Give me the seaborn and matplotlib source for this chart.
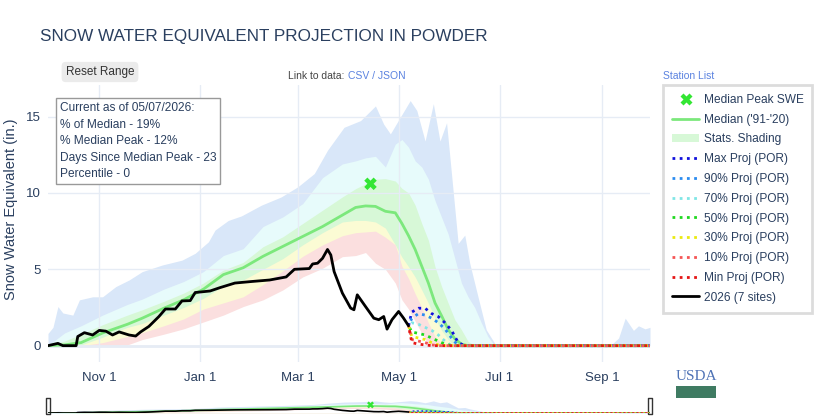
import matplotlib
matplotlib.use("Agg")
import matplotlib.pyplot as plt
import seaborn as sns
from matplotlib.lines import Line2D
from matplotlib.patches import Patch, Rectangle

# day index from Oct 1 (water year start)
tick_days = [31, 92, 151, 212, 273, 335]
tick_labels = ["Nov 1", "Jan 1", "Mar 1", "May 1", "Jul 1", "Sep 1"]

band_days = [0, 10, 20, 33, 48, 57, 70, 82, 94, 106, 118, 130, 142, 154, 166, 178, 186, 192, 198,
             204, 210, 214, 218, 222, 226, 230, 234, 238, 242, 246, 250, 254, 258, 262, 266, 270, 274, 364]
median_swe = [0, 0.05, 0.2, 0.83, 1.4, 1.8, 2.45, 3.0, 3.7, 4.65, 5.1, 5.85, 6.5, 7.15, 7.8, 8.55, 9.05, 9.15, 9.12,
              8.8, 8.7, 8.0, 7.2, 6.3, 5.2, 4.1, 2.8, 1.95, 1.05, 0.45, 0.1, 0, 0, 0, 0, 0, 0, 0]
p90_swe = [0, 0.83, 1.3, 2.0, 2.7, 3.05, 3.7, 4.2, 4.85, 5.9, 6.35, 7.8, 8.43, 9.3, 11.0, 11.9, 12.1, 12.3, 12.4,
           11.7, 13.2, 13.5, 13.0, 12.1, 11.7, 10.9, 9.5, 8.4, 7.3, 5.7, 4.1, 3.2, 2.5, 1.5, 0.6, 0, 0, 0]
p70_swe = [0, 0.3, 0.75, 1.37, 2.0, 2.35, 2.9, 3.44, 4.1, 4.95, 5.45, 6.48, 7.13, 8.0, 8.87, 9.74, 10.28, 10.6, 10.9,
           10.94, 10.78, 10.3, 10.0, 9.2, 8.0, 6.9, 5.17, 3.87, 2.78, 1.7, 1.04, 0.28, 0, 0, 0, 0, 0, 0]
p30_swe = [0, 0, 0.05, 0.55, 1.2, 1.45, 2.0, 2.5, 3.1, 3.9, 4.3, 5.0, 5.7, 6.6, 7.4, 8.1, 8.2, 8.2, 8.1,
           7.7, 6.6, 5.8, 5.17, 4.5, 3.65, 2.78, 1.8, 1.0, 0.4, 0, 0, 0, 0, 0, 0, 0, 0, 0]
p10_swe = [0, 0, 0, 0.2, 0.6, 0.85, 1.3, 1.75, 2.4, 2.8, 3.2, 4.0, 4.9, 5.85, 6.6, 7.2, 7.4, 7.45, 7.5,
           7.1, 6.6, 5.2, 4.4, 3.4, 2.5, 1.5, 0.6, 0.1, 0, 0, 0, 0, 0, 0, 0, 0, 0, 0]
min_swe = [0, 0, 0, 0, 0.05, 0.4, 0.75, 1.1, 1.55, 2.0, 2.56, 3.0, 3.65, 4.5, 5.07, 5.83, 5.9, 6.1, 5.4,
           5.0, 4.1, 3.0, 2.4, 1.6, 0.8, 0.1, 0, 0, 0, 0, 0, 0, 0, 0, 0, 0, 0, 0]

max_days = [0, 3, 6, 9, 15, 19, 27, 33, 41, 49, 57, 69, 81, 89, 97, 101, 109, 117, 129, 141,
            151, 161, 169, 179, 189, 198, 203, 207, 213, 219, 223, 228, 233, 237, 241, 243, 248, 252, 255, 260,
            265, 271, 340, 345, 349, 354, 357, 361, 364]
max_swe = [0.8, 1.2, 2.56, 2.14, 2.0, 3.0, 3.2, 3.2, 3.87, 4.3, 4.85, 5.28, 5.6, 6.05, 6.8, 7.57, 8.2, 8.5, 9.2, 9.74,
           10.4, 11.27, 12.8, 14.3, 14.74, 15.7, 14.5, 13.87, 14.96, 16.05, 15.4, 13.4, 15.85, 13.4, 14.6, 12.35,
           6.7, 7.24, 5.4, 3.2, 1.04, 0, 0, 0.5, 1.8, 1.0, 1.3, 1.1, 1.2]

obs_days = [0, 6, 9, 17, 18, 22, 27, 31, 35, 39, 43, 49, 53, 56, 61, 67, 71, 77, 81, 86,
            89, 98, 104, 113, 123, 134, 144, 149, 158, 160, 163, 166, 169, 171, 173, 178, 183, 185, 187, 192,
            197, 200, 203, 205, 208, 212, 215, 218]
obs_swe = [0, 0.15, 0, 0, 0.6, 0.85, 0.7, 1.0, 0.95, 0.7, 0.9, 0.7, 0.63, 0.9, 1.26, 1.9, 2.4, 2.4, 2.93, 2.95,
           3.48, 3.58, 3.8, 4.1, 4.2, 4.3, 4.5, 5.0, 5.05, 5.35, 5.4, 5.72, 6.3, 5.94, 4.85, 3.44, 2.46, 2.35, 3.33, 2.56,
           1.8, 1.7, 1.91, 1.08, 1.7, 2.24, 1.8, 1.3]

peak_day = [195]
peak_swe = [10.6]

proj_days = [218, 220, 224, 228, 232, 236, 240, 244, 248, 252, 364]
proj_max = [1.3, 2.2, 2.45, 2.45, 2.1, 1.9, 1.5, 1.0, 0.2, 0, 0]
proj_90 = [1.3, 1.8, 2.1, 2.0, 1.8, 1.5, 1.1, 0.5, 0, 0, 0]
proj_70 = [1.3, 1.5, 1.4, 1.2, 1.0, 0.7, 0.3, 0, 0, 0, 0]
proj_50 = [1.3, 0.9, 0.8, 0.7, 0.5, 0.3, 0.1, 0, 0, 0, 0]
proj_30 = [1.3, 0.6, 0.5, 0.4, 0.2, 0.05, 0, 0, 0, 0, 0]
proj_10 = [1.3, 0.4, 0.3, 0.2, 0.05, 0, 0, 0, 0, 0, 0]
proj_min = [1.3, 0.2, 0.1, 0.05, 0, 0, 0, 0, 0, 0, 0]
proj_labels = ["Max Proj (POR)", "90% Proj (POR)", "70% Proj (POR)", "50% Proj (POR)",
               "30% Proj (POR)", "10% Proj (POR)", "Min Proj (POR)"]

info_lines = ["Current as of 05/07/2026:", "% of Median - 19%", "% Median Peak - 12%",
              "Days Since Median Peak - 23", "Percentile - 0"]

FONT_C = "#2a3f5f"
GRID_C = "#e6ecf5"
BAND_COLORS = ["#d9e7f9", "#e7fbfb", "#d7f8d7", "#fbfbd4", "#fbdfdf", "white"]
PROJ_COLORS = ["#1111dd", "#2b8cf0", "#80e6e6", "#1fd81f", "#eaea10", "#f55555", "#e51515"]
MED_C = "#7ce87c"
PEAK_C = "#33e633"
LINK_C = "#5a82e0"

sns.set_theme(style="white")
plt.rcParams["font.family"] = ["Liberation Sans", "DejaVu Sans"]

fig = plt.figure(figsize=(8.16, 4.2), dpi=100)
ax = fig.add_axes([48 / 816, 58 / 420, 602 / 816, 277 / 420])
ax2 = fig.add_axes([48 / 816, 7 / 420, 602 / 816, 13 / 420])


def draw_chart(a, lw_scale=1.0, mark=9):
    a.fill_between(max_days, 0, max_swe, color=BAND_COLORS[0], lw=0, zorder=1)
    for i, vals in enumerate([p90_swe, p70_swe, p30_swe, p10_swe, min_swe]):
        a.fill_between(band_days, 0, vals, color=BAND_COLORS[i + 1], lw=0, zorder=1 + 0.1 * (i + 1))
    sns.lineplot(x=band_days, y=median_swe, ax=a, color=MED_C, lw=2 * lw_scale, zorder=3)
    projs = [proj_max, proj_90, proj_70, proj_50, proj_30, proj_10, proj_min]
    for i, vals in enumerate(projs):
        sns.lineplot(x=proj_days, y=vals, ax=a, color=PROJ_COLORS[i], lw=2 * lw_scale,
                     linestyle=(i * 0.6, (1, 1.6)), zorder=4)
    sns.lineplot(x=obs_days, y=obs_swe, ax=a, color="black", lw=2 * lw_scale, zorder=5)
    sns.scatterplot(x=peak_day, y=peak_swe, ax=a, marker="X", s=mark ** 2, color=PEAK_C,
                    edgecolor="none", zorder=6)
    a.set_xlim(0, 364)


draw_chart(ax)
ax.set_ylim(-1.07, 17.07)
ax.set_xticks(tick_days)
ax.set_xticklabels(tick_labels)
ax.set_yticks([0, 5, 10, 15])
ax.grid(True, color=GRID_C, lw=1)
ax.set_axisbelow(False)
ax.axhline(0, color=GRID_C, lw=2, zorder=2.6)
for s in ax.spines.values():
    s.set_visible(False)
ax.tick_params(length=0, labelsize=9.5, colors=FONT_C)
ax.tick_params(axis="x", pad=7)
ax.tick_params(axis="y", pad=5)
ax.set_xlabel("")
ax.set_ylabel("Snow Water Equivalent (in.)", fontsize=10.5, color=FONT_C)
ax.yaxis.set_label_coords(-0.05, 0.55)

# range slider
draw_chart(ax2, lw_scale=0.6, mark=5)
ax2.set_ylim(0, 17)
ax2.axis("off")
handle = [(-0.3, -1), (0.3, -1), (0.3, 1), (-0.3, 1), (-0.3, -1)]
ax2.plot([0, 1], [0.55, 0.55], ls="none", marker=handle, markersize=11, mfc="white", mec="#333333",
         mew=1, transform=ax2.transAxes, clip_on=False)

fig.text(40 / 816, 1 - 37 / 420, "SNOW WATER EQUIVALENT PROJECTION IN POWDER", fontsize=12.3,
         color=FONT_C, va="center", ha="left")
fig.text(100 / 816, 1 - 72 / 420, "Reset Range", fontsize=8.5, color="#333333", ha="center", va="center",
         bbox=dict(boxstyle="round,pad=0.35", fc="#ebebeb", ec="none"))
fig.text(347 / 816, 1 - 76 / 420, "Link to data: ", fontsize=7.5, color="#444444", ha="right", va="center")
fig.text(348 / 816, 1 - 76 / 420, "CSV / JSON", fontsize=7.5, color=LINK_C, ha="left", va="center")
fig.text(663 / 816, 1 - 76 / 420, "Station List", fontsize=7.5, color=LINK_C, ha="left", va="center")

fig.text(60 / 816, 1 - 102 / 420, "\n".join(info_lines), fontsize=8.6, color=FONT_C, ha="left", va="top",
         linespacing=1.5, bbox=dict(boxstyle="square,pad=0.3", fc="white", ec="#999999", lw=1))

handles = [Line2D([], [], marker="X", color=PEAK_C, ls="none", markersize=8, mec="none"),
           Line2D([], [], color=MED_C, lw=2),
           Patch(fc=BAND_COLORS[2], ec="none")]
handles += [Line2D([], [], color=c, lw=2, ls=(0, (1, 1.6))) for c in PROJ_COLORS]
handles += [Line2D([], [], color="black", lw=2)]
labels = ["Median Peak SWE", "Median ('91-'20)", "Stats. Shading"] + proj_labels + ["2026 (7 sites)"]
leg = fig.legend(handles, labels, loc="upper left", bbox_to_anchor=(663 / 816, 1 - 85 / 420),
                 fontsize=8.6, frameon=True, fancybox=False, edgecolor="#d4d4d4", handlelength=2.3,
                 labelspacing=0.65, borderpad=0.75, borderaxespad=0, handletextpad=0.35, labelcolor=FONT_C)
leg.get_frame().set_linewidth(2)

# USDA logo
fig.text(696 / 816, 1 - 376 / 420, "USDA", fontsize=11, family="Liberation Serif", color="#4f73b6",
         ha="center", va="center")
fig.patches.append(Rectangle((676 / 816, 1 - 398 / 420), 40 / 816, 12 / 420, transform=fig.transFigure,
                             fc="#3f7b62", ec="none"))

fig.savefig("out.png", dpi=100)
